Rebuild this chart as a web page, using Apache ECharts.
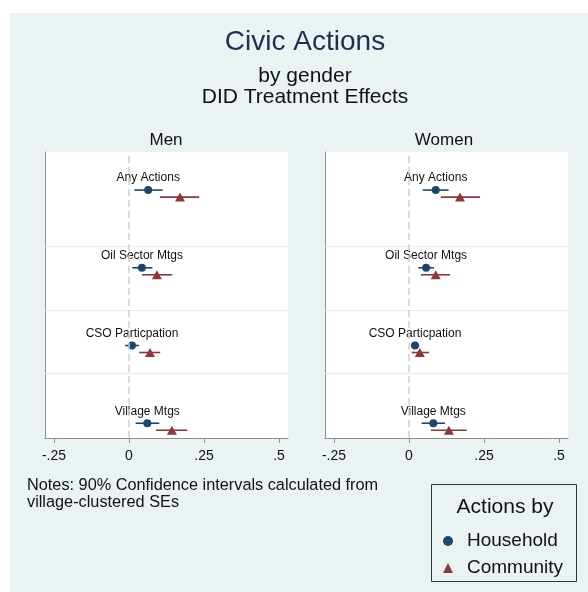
<!DOCTYPE html>
<html>
<head>
<meta charset="utf-8">
<script src="https://cdn.jsdelivr.net/npm/echarts@6/dist/echarts.min.js"></script>
<style>
  html, body { margin: 0; padding: 0; background: #ffffff; }
  #wrap { position: relative; width: 588px; height: 592px; }
  #bg { position: absolute; left: 10px; top: 13px; right: 0; bottom: 0; background: #eaf2f3; }
  #chart { position: absolute; left: 0; top: 0; width: 588px; height: 592px; }
</style>
</head>
<body>
<div id="wrap"><div id="bg"></div><div id="chart"></div></div>
<script>
// Outcome categories, top to bottom
const categories = ['Any Actions', 'Oil Sector Mtgs', 'CSO Particpation', 'Village Mtgs'];

// Men: point estimates and 90% CI bounds
const menHousehold   = [0.064, 0.043, 0.010, 0.061];
const menHouseholdLo = [0.018, 0.011, -0.013, 0.022];
const menHouseholdHi = [0.112, 0.078, 0.033, 0.101];
const menCommunity   = [0.170, 0.093, 0.070, 0.143];
const menCommunityLo = [0.103, 0.043, 0.034, 0.090];
const menCommunityHi = [0.234, 0.144, 0.104, 0.194];

// Women: point estimates and 90% CI bounds
const womenHousehold   = [0.089, 0.057, 0.020, 0.081];
const womenHouseholdLo = [0.046, 0.031, 0.006, 0.042];
const womenHouseholdHi = [0.132, 0.083, 0.034, 0.120];
const womenCommunity   = [0.170, 0.089, 0.036, 0.133];
const womenCommunityLo = [0.106, 0.040, 0.009, 0.073];
const womenCommunityHi = [0.237, 0.137, 0.067, 0.192];

// x-axis ticks
const tickValues = [-0.25, 0, 0.25, 0.5];
const tickLabels = ['-.25', '0', '.25', '.5'];

const panels = ['Men', 'Women'];

const NAVY = '#1a476f';
const MAROON = '#90353b';
const FONT = 'Liberation Sans, Arial, Helvetica, sans-serif';

// vertical level of each category row (top row highest)
const rowLevel = categories.map((c, i) => categories.length - i);
const COMMUNITY_SHIFT = -0.09;
const ROW_LINES = [3.28, 2.46, 1.64];

function pointData(vals, shift) {
  return vals.map((v, i) => ({ name: categories[i], value: [v, rowLevel[i] + shift] }));
}
function ciData(lo, hi, shift) {
  return lo.map((l, i) => [l, hi[i], rowLevel[i] + shift]);
}
function ciSeries(idx, lo, hi, shift, color) {
  return {
    type: 'custom',
    name: 'ci',
    xAxisIndex: idx, yAxisIndex: idx,
    data: ciData(lo, hi, shift),
    encode: { x: [0, 1], y: 2 },
    silent: true,
    z: 2,
    renderItem: function (params, api) {
      const a = api.coord([api.value(0), api.value(2)]);
      const b = api.coord([api.value(1), api.value(2)]);
      return { type: 'line', shape: { x1: a[0], y1: a[1], x2: b[0], y2: b[1] },
               style: { stroke: color, lineWidth: 1.6 } };
    }
  };
}

const gridDefs = [
  { left: 45, top: 152, width: 243, height: 286 },
  { left: 325, top: 152, width: 243, height: 286 }
];

const grids = gridDefs.map(g => Object.assign({ show: true, backgroundColor: '#ffffff', borderWidth: 0 }, g));

const xAxes = gridDefs.map((g, i) => ({
  type: 'value', gridIndex: i, min: -0.28, max: 0.53,
  axisLine: { show: true, lineStyle: { color: '#8c8c8c', width: 1 } },
  axisTick: { show: true, length: 5, customValues: tickValues, lineStyle: { color: '#8c8c8c' } },
  axisLabel: {
    show: true, customValues: tickValues, margin: 11,
    fontSize: 14, color: '#111', fontFamily: FONT,
    formatter: v => { const k = tickValues.findIndex(t => Math.abs(t - v) < 1e-9); return k >= 0 ? tickLabels[k] : ''; }
  },
  splitLine: { show: false }
}));

const yAxes = gridDefs.map((g, i) => ({
  type: 'value', gridIndex: i, min: 0.81, max: 4.49,
  axisLine: { show: true, onZero: false, lineStyle: { color: '#8c8c8c', width: 1 } },
  axisTick: { show: false }, axisLabel: { show: false }, splitLine: { show: false }
}));

const panelData = [
  { h: menHousehold, hlo: menHouseholdLo, hhi: menHouseholdHi, c: menCommunity, clo: menCommunityLo, chi: menCommunityHi },
  { h: womenHousehold, hlo: womenHouseholdLo, hhi: womenHouseholdHi, c: womenCommunity, clo: womenCommunityLo, chi: womenCommunityHi }
];

const series = [];
panelData.forEach((d, i) => {
  // row separators and zero reference line
  series.push({
    type: 'line', name: 'ref', xAxisIndex: i, yAxisIndex: i, data: [], silent: true,
    markLine: {
      silent: true, symbol: 'none', label: { show: false }, animation: false,
      data: ROW_LINES.map(y => ({ yAxis: y, lineStyle: { color: '#ececec', width: 1, type: 'solid' } }))
        .concat([{ xAxis: 0, lineStyle: { color: '#cfcfcf', width: 1.5, type: [7, 4] } }])
    }
  });
  series.push(ciSeries(i, d.hlo, d.hhi, 0, NAVY));
  series.push(ciSeries(i, d.clo, d.chi, COMMUNITY_SHIFT, MAROON));
  series.push({
    type: 'scatter', name: 'Household', xAxisIndex: i, yAxisIndex: i,
    symbol: 'circle', symbolSize: 8, itemStyle: { color: NAVY, opacity: 1 }, z: 4,
    data: pointData(d.h, 0),
    label: { show: true, position: 'top', distance: 2, formatter: '{b}', fontSize: 12, color: '#111', fontFamily: FONT }
  });
  series.push({
    type: 'scatter', name: 'Community', xAxisIndex: i, yAxisIndex: i,
    symbol: 'triangle', symbolSize: [10, 9], itemStyle: { color: MAROON, opacity: 1 }, z: 4,
    data: pointData(d.c, COMMUNITY_SHIFT)
  });
});

const chart = echarts.init(document.getElementById('chart'), null, { renderer: 'canvas' });
chart.setOption({
  animation: false,
  backgroundColor: 'transparent',
  textStyle: { fontFamily: FONT },
  grid: grids,
  xAxis: xAxes,
  yAxis: yAxes,
  series: series,
  legend: {
    orient: 'vertical', left: 438, top: 525,
    itemWidth: 10, itemHeight: 10, itemGap: 5,
    selectedMode: false,
    textStyle: { fontSize: 19, lineHeight: 22, color: '#111', fontFamily: FONT, padding: [0, 0, 0, 9] },
    data: [
      { name: 'Household', icon: 'circle', itemStyle: { color: NAVY, opacity: 1 } },
      { name: 'Community', icon: 'triangle', itemStyle: { color: MAROON, opacity: 1 } }
    ]
  },
  graphic: [
    { type: 'text', x: 305, y: 28, style: { text: 'Civic Actions', fontSize: 28, fill: '#1e2f52', fontFamily: FONT, textAlign: 'center' } },
    { type: 'text', x: 305, y: 76, style: { text: 'by gender', fontSize: 21, fill: '#111', fontFamily: FONT, textAlign: 'center', textVerticalAlign: 'middle' } },
    { type: 'text', x: 305, y: 97, style: { text: 'DID Treatment Effects', fontSize: 21, fill: '#111', fontFamily: FONT, textAlign: 'center', textVerticalAlign: 'middle' } },
    { type: 'text', x: 166, y: 140, style: { text: panels[0], fontSize: 17, fill: '#111', fontFamily: FONT, textAlign: 'center', textVerticalAlign: 'middle' } },
    { type: 'text', x: 444, y: 140, style: { text: panels[1], fontSize: 17, fill: '#111', fontFamily: FONT, textAlign: 'center', textVerticalAlign: 'middle' } },
    { type: 'text', x: 27, y: 477, style: { text: 'Notes: 90% Confidence intervals calculated from\nvillage-clustered SEs', fontSize: 16.3, lineHeight: 17, fill: '#111', fontFamily: FONT } },
    { type: 'rect', shape: { x: 431.5, y: 484.5, width: 145, height: 97 }, style: { fill: 'none', stroke: '#333', lineWidth: 1 } },
    { type: 'text', x: 505, y: 507, style: { text: 'Actions by', fontSize: 21, fill: '#111', fontFamily: FONT, textAlign: 'center', textVerticalAlign: 'middle' } }
  ]
});
</script>
</body>
</html>
